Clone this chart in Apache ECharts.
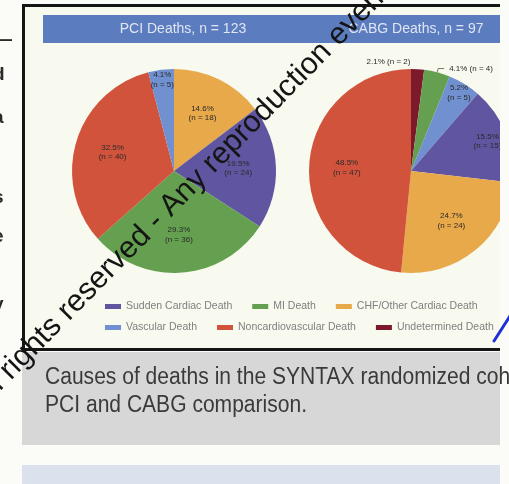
<!DOCTYPE html>
<html>
<head>
<meta charset="utf-8">
<script src="https://cdn.jsdelivr.net/npm/echarts@6/dist/echarts.min.js"></script>
<style>
  html, body { margin: 0; padding: 0; background: #fbfbf8; }
  #chart { width: 509px; height: 484px; }
</style>
</head>
<body>
<div id="chart"></div>
<script>
// Causes of death, SYNTAX trial: PCI arm vs CABG arm
const categories = [
  'Sudden Cardiac Death', 'MI Death', 'CHF/Other Cardiac Death',
  'Vascular Death', 'Noncardiovascular Death', 'Undetermined Death'
];
const pciCounts  = [24, 36, 18, 5, 40, 0];
const cabgCounts = [15, 4, 24, 5, 47, 2];
// clockwise slice order (indices into categories), starting at 12 o'clock
const pciSliceOrder  = [2, 0, 1, 4, 3];
const cabgSliceOrder = [5, 1, 3, 0, 2, 4];
const panelTitles = ['PCI Deaths, n = 123', 'CABG Deaths, n = 97'];
const captionLines = ['Causes of deaths in the SYNTAX randomized cohort', 'PCI and CABG comparison.'];
const legendRows = [[0, 1, 2], [3, 4, 5]];
const sideText = ['\u2014', 'd', 'a', '-', 's', 'e', ',', 'y', 'l'];

const colors = ['#5f55a0', '#64a04f', '#e8a94a', '#7090cf', '#d1533c', '#7c1a2c'];

// where each slice's label goes: body / mid / rim rings inside the pie, or outside
const pciLabelModes  = { 3: 'rim' };
const cabgLabelModes = { 5: 'outsideLeft', 1: 'outside', 3: 'rim', 0: 'mid' };
const ringInner = { body: 0.2, mid: 0.55, rim: 0.74 };

const R = 102;
const pies = [
  { id: 'pci',  counts: pciCounts,  order: pciSliceOrder,  modes: pciLabelModes,  center: [174, 171] },
  { id: 'cabg', counts: cabgCounts, order: cabgSliceOrder, modes: cabgLabelModes, center: [411, 171] }
];

function pct(v, total) { return (v / total * 100).toFixed(1); }

const labelText = { fontSize: 8, lineHeight: 9.5, color: '#2a2a2a', fontFamily: 'Liberation Sans' };

function slicesOf(p) {
  const total = p.counts.reduce((a, b) => a + b, 0);
  return p.order.filter(k => p.counts[k] > 0).map(k => ({
    k, name: categories[k], value: p.counts[k], total, mode: p.modes[k] || 'body'
  }));
}

const mainSeries = [];
const labelSeries = [];
pies.forEach(p => {
  const slices = slicesOf(p);
  mainSeries.push({
    type: 'pie', id: p.id, center: p.center, radius: [0, R],
    startAngle: 90, clockwise: true, avoidLabelOverlap: false, animation: false,
    itemStyle: { borderWidth: 0 },
    emphasis: { disabled: true },
    label: { show: false },
    labelLine: { show: false },
    data: slices.map(s => {
      const item = { name: s.name, value: s.value, itemStyle: { color: colors[s.k] } };
      if (s.mode === 'outside' || s.mode === 'outsideLeft') {
        item.label = Object.assign({
          show: true, position: 'outside',
          formatter: pct(s.value, s.total) + '% (n = ' + s.value + ')'
        }, labelText, s.mode === 'outsideLeft' ? { offset: [-56, -7] } : {});
        item.labelLine = s.mode === 'outside'
          ? { show: true, length: 4, length2: 6, lineStyle: { color: '#555', width: 0.8 } }
          : { show: false, length: 0, length2: 0 };
      }
      return item;
    })
  });
  Object.keys(ringInner).forEach(mode => {
    if (!slices.some(s => s.mode === mode)) return;
    labelSeries.push({
      type: 'pie', center: p.center, radius: [R * ringInner[mode], R],
      startAngle: 90, clockwise: true, avoidLabelOverlap: false, silent: true, animation: false,
      itemStyle: { color: 'rgba(0,0,0,0)', borderWidth: 0 },
      emphasis: { disabled: true },
      labelLine: { show: false },
      label: Object.assign({
        position: 'inside',
        formatter: d => pct(d.value, slices[0].total) + '%\n(n = ' + d.value + ')'
      }, labelText),
      data: slices.map(s => ({ name: s.name, value: s.value, label: { show: s.mode === mode } }))
    });
  });
});

const captionFont = '23px "Liberation Sans"';
const graphics = [
  { type: 'rect', shape: { x: 0, y: 0, width: 509, height: 484 }, style: { fill: '#fbfbf8' }, z: -10 },
  // figure frame
  { type: 'rect', shape: { x: 23.5, y: 5.5, width: 482, height: 344 }, style: { fill: '#f8f9ef', stroke: '#151515', lineWidth: 3 }, z: -5 },
  // header bar
  { type: 'rect', shape: { x: 43, y: 15, width: 462, height: 28 }, style: { fill: '#5b7cbe' }, z: -4 },
  { type: 'text', x: 183, y: 29, style: { text: panelTitles[0], fill: '#dfe5f2', font: '14px "Liberation Sans"', align: 'center', verticalAlign: 'middle' }, z: -3 },
  { type: 'text', x: 416, y: 29, style: { text: panelTitles[1], fill: '#dfe5f2', font: '14px "Liberation Sans"', align: 'center', verticalAlign: 'middle' }, z: -3 },
  // caption box
  { type: 'rect', shape: { x: 22, y: 352, width: 490, height: 93 }, style: { fill: '#d7d7d7' }, z: -4 },
  { type: 'rect', shape: { x: 22, y: 465, width: 490, height: 30 }, style: { fill: '#dbe2ee' }, z: -4 },
  // right page margin
  { type: 'rect', shape: { x: 500, y: 0, width: 9, height: 484 }, style: { fill: '#fbfbf8' }, z: 100 },
  { type: 'text', x: 45, y: 378, scaleX: 0.915, style: { text: captionLines[0], fill: '#3a3a3a', font: captionFont, align: 'left', verticalAlign: 'middle' }, z: 101 },
  { type: 'text', x: 45, y: 406, scaleX: 0.915, style: { text: captionLines[1], fill: '#3a3a3a', font: captionFont, align: 'left', verticalAlign: 'middle' }, z: 101 },
  // diagonal notice
  { type: 'text', x: -25, y: 405, rotation: 45.5 * Math.PI / 180,
    style: { text: 'All rights reserved - Any reproduction even if', fill: '#141414', font: '30.5px "Liberation Sans"', align: 'left', verticalAlign: 'middle' }, z: 102 },
  // pen stroke
  { type: 'line', shape: { x1: 494, y1: 341, x2: 510, y2: 316 }, style: { stroke: '#1c30d4', lineWidth: 3, lineCap: 'round' }, z: 103 }
];
const sideY = [40, 75, 118, 157, 198, 237, 262, 305, 345];
sideText.forEach((t, i) => {
  graphics.push({ type: 'text', x: -7, y: sideY[i], style: { text: t, fill: '#2a2a2a', font: 'bold 19px "Liberation Sans"', align: 'left', verticalAlign: 'middle' }, z: 5 });
});

const chart = echarts.init(document.getElementById('chart'), null, { renderer: 'canvas' });
chart.setOption({
  animation: false,
  backgroundColor: 'transparent',
  tooltip: { show: false },
  legend: legendRows.map((row, i) => ({
    data: row.map(k => categories[k]),
    left: 105, top: 301 + i * 21, orient: 'horizontal',
    icon: 'rect', itemWidth: 16, itemHeight: 5, itemGap: 20, padding: 0,
    selectedMode: false,
    textStyle: { fontSize: 10.5, color: '#7f7f7f', fontFamily: 'Liberation Sans' }
  })),
  graphic: { elements: graphics },
  series: mainSeries.concat(labelSeries)
});
</script>
</body>
</html>
